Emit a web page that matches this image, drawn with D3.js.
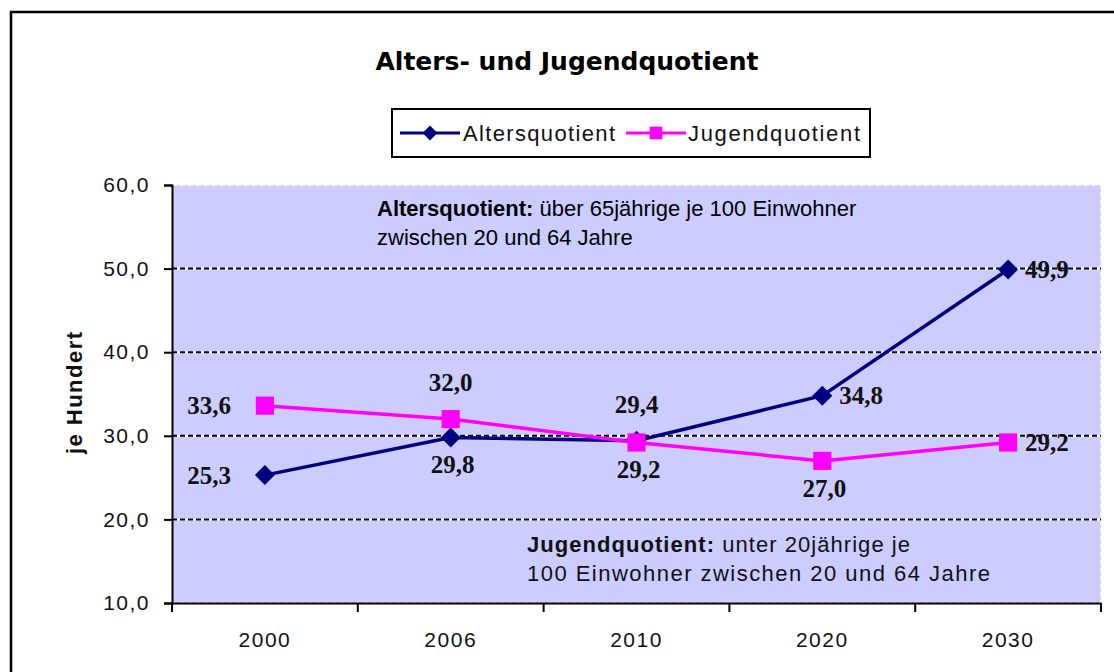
<!DOCTYPE html>
<html>
<head>
<meta charset="utf-8">
<script src="https://cdn.jsdelivr.net/npm/d3@7"></script>
<style>
  body { margin: 0; background: #fff; }
  .tick text { font-family: "Liberation Sans", Arial, sans-serif; font-size: 21px; letter-spacing: 1.5px; fill: #111; }
  .px { font-family: "Liberation Sans", Arial, sans-serif; fill: #111; }
</style>
</head>
<body>
<script>
// chart values
const years = ['2000', '2006', '2010', '2020', '2030'];
const altersquotient = [25.3, 29.8, 29.4, 34.8, 49.9];
const jugendquotient = [33.6, 32.0, 29.2, 27.0, 29.2];
// where each data label sits relative to its point
const altersLabelPos = ['left', 'below', 'above', 'right', 'right'];
const jugendLabelPos = ['left', 'above', 'below', 'below', 'right'];
const yTicks = [10, 20, 30, 40, 50, 60];

let width = 1114, height = 672;
let plot = { left: 172, right: 1101, top: 185, bottom: 603 };

const fmt = d => d3.format('.1f')(d).replace('.', ',');

let svg = d3.select('body')
  .append('svg')
  .attr('width', width)
  .attr('height', height);

// outer chart frame (runs off the right and bottom edge)
svg.append('rect')
  .attr('x', 11).attr('y', 12)
  .attr('width', 1200).attr('height', 1000)
  .attr('fill', '#fff')
  .attr('stroke', '#000')
  .attr('stroke-width', 2.5);

const x = d3.scaleBand()
  .domain(years)
  .range([plot.left, plot.right]);

const y = d3.scaleLinear()
  .domain([10, 60])
  .range([plot.bottom, plot.top]);

const cx = d => x(d) + x.bandwidth() / 2;

// plot background
svg.append('rect')
  .attr('x', plot.left).attr('y', plot.top)
  .attr('width', plot.right - plot.left)
  .attr('height', plot.bottom - plot.top)
  .attr('fill', '#ccccff')
  .attr('stroke', '#fff')
  .attr('stroke-width', 1.5)
  .attr('stroke-dasharray', '5,3');

// gridlines: white line with black dashes on top
const grid = yTicks.filter(d => d > 10 && d < 60);
svg.selectAll('.gridw')
  .data(grid)
  .enter()
  .append('line')
  .attr('x1', plot.left).attr('x2', plot.right)
  .attr('y1', d => y(d)).attr('y2', d => y(d))
  .attr('stroke', '#fff')
  .attr('stroke-width', 2);
svg.selectAll('.gridb')
  .data(grid)
  .enter()
  .append('line')
  .attr('x1', plot.left).attr('x2', plot.right)
  .attr('y1', d => y(d)).attr('y2', d => y(d))
  .attr('stroke', '#000')
  .attr('stroke-width', 2)
  .attr('stroke-dasharray', '5,3');

// annotations inside plot
const topNote = svg.append('text')
  .attr('font-family', '"Liberation Sans", Arial, sans-serif')
  .attr('font-size', 22)
  .attr('fill', '#000');
topNote.append('tspan').attr('x', 377).attr('y', 216).attr('font-weight', 'bold').text('Altersquotient:');
topNote.append('tspan').text(' über 65jährige je 100 Einwohner');
topNote.append('tspan').attr('x', 377).attr('y', 245).text('zwischen 20 und 64 Jahre');

const botNote1 = svg.append('text')
  .attr('class', 'px')
  .attr('x', 527).attr('y', 552)
  .attr('font-size', 22)
  .attr('textLength', 383)
  .attr('lengthAdjust', 'spacing');
botNote1.append('tspan').attr('font-weight', 'bold').text('Jugendquotient:');
botNote1.append('tspan').text(' unter 20jährige je');

svg.append('text')
  .attr('class', 'px')
  .attr('x', 527).attr('y', 581)
  .attr('font-size', 22)
  .attr('textLength', 463)
  .attr('lengthAdjust', 'spacing')
  .text('100 Einwohner zwischen 20 und 64 Jahre');

// axes
svg.append('g')
  .attr('transform', `translate(${plot.left},0)`)
  .call(d3.axisLeft(y).tickValues(yTicks).tickFormat(fmt).tickSize(8).tickPadding(14))
  .call(g => g.select('.domain').attr('stroke-width', 2))
  .call(g => g.selectAll('.tick line').attr('stroke-width', 2));

svg.append('g')
  .attr('transform', `translate(0,${plot.bottom})`)
  .call(d3.axisBottom(x).tickSize(0).tickPadding(29).tickSizeOuter(0))
  .call(g => g.select('.domain').attr('stroke-width', 2));

// category boundary ticks
const bounds = years.map(d => x(d)).concat([plot.right]);
svg.selectAll('.xtick')
  .data(bounds)
  .enter()
  .append('line')
  .attr('x1', d => d).attr('x2', d => d)
  .attr('y1', plot.bottom).attr('y2', plot.bottom + 9)
  .attr('stroke', '#000')
  .attr('stroke-width', 2);

// axis title
svg.append('text')
  .attr('class', 'px')
  .attr('transform', `translate(82,393)rotate(-90)`)
  .attr('text-anchor', 'middle')
  .attr('font-size', 22)
  .attr('font-weight', 'bold')
  .attr('textLength', 122)
  .attr('lengthAdjust', 'spacing')
  .text('je Hundert');

// chart title
svg.append('text')
  .attr('x', 567).attr('y', 70)
  .attr('text-anchor', 'middle')
  .attr('font-family', '"DejaVu Sans", sans-serif')
  .attr('font-weight', 'bold')
  .attr('font-size', 25)
  .text('Alters- und Jugendquotient');

// series
const series = [
  { name: 'Altersquotient', values: altersquotient, pos: altersLabelPos, color: '#000080', shape: 'diamond' },
  { name: 'Jugendquotient', values: jugendquotient, pos: jugendLabelPos, color: '#ff00ff', shape: 'square' }
];

const marker = (sel, shape, big) => {
  if (shape === 'diamond') {
    sel.attr('d', d3.symbol(d3.symbolSquare, big ? 200 : 110)()).attr('data-rot', 45);
  } else {
    sel.attr('d', d3.symbol(d3.symbolSquare, big ? 330 : 160)()).attr('data-rot', 0);
  }
};

const line = d3.line()
  .x((d, i) => cx(years[i]))
  .y(d => y(d));

series.forEach(s => {
  svg.append('path')
    .datum(s.values)
    .attr('d', line)
    .attr('fill', 'none')
    .attr('stroke', s.color)
    .attr('stroke-width', 3.5);

  svg.selectAll(null)
    .data(s.values)
    .enter()
    .append('path')
    .call(marker, s.shape, true)
    .attr('transform', function(d, i) {
      return `translate(${cx(years[i])},${y(d)})rotate(${d3.select(this).attr('data-rot')})`;
    })
    .attr('fill', s.color);
});

// data labels
const offsets = {
  left: { dx: -34, dy: 0, anchor: 'end' },
  right: { dx: 17, dy: 0, anchor: 'start' },
  above: { dx: 0, dy: -37, anchor: 'middle' },
  below: { dx: 2, dy: 27, anchor: 'middle' }
};
series.forEach(s => {
  svg.selectAll(null)
    .data(s.values)
    .enter()
    .append('text')
    .attr('x', (d, i) => cx(years[i]) + offsets[s.pos[i]].dx)
    .attr('y', (d, i) => y(d) + offsets[s.pos[i]].dy)
    .attr('dy', '0.35em')
    .attr('text-anchor', (d, i) => offsets[s.pos[i]].anchor)
    .attr('font-family', '"Liberation Serif", "Times New Roman", serif')
    .attr('font-weight', 'bold')
    .attr('font-size', 25)
    .attr('fill', '#111')
    .text(fmt);
});

// legend
const legend = svg.append('g');
legend.append('rect')
  .attr('x', 392).attr('y', 109)
  .attr('width', 478).attr('height', 48)
  .attr('fill', '#fff')
  .attr('stroke', '#000')
  .attr('stroke-width', 2);

const legendItems = [
  { s: series[0], x0: 400, tx: 463, tw: 152 },
  { s: series[1], x0: 626, tx: 688, tw: 172 }
];
legendItems.forEach(it => {
  legend.append('line')
    .attr('x1', it.x0).attr('x2', it.x0 + 60)
    .attr('y1', 133).attr('y2', 133)
    .attr('stroke', it.s.color)
    .attr('stroke-width', 3);
  legend.append('path')
    .call(marker, it.s.shape, false)
    .attr('transform', function() {
      return `translate(${it.x0 + 30},133)rotate(${d3.select(this).attr('data-rot')})`;
    })
    .attr('fill', it.s.color);
  legend.append('text')
    .attr('class', 'px')
    .attr('x', it.tx).attr('y', 141)
    .attr('font-size', 22)
    .attr('textLength', it.tw)
    .attr('lengthAdjust', 'spacing')
    .text(it.s.name);
});
</script>
</body>
</html>
